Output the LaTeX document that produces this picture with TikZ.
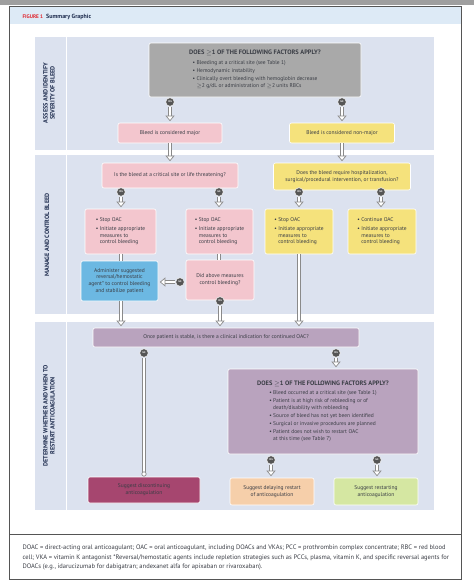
\documentclass[tikz,border=0pt]{standalone}
\usepackage{fontspec}
\setmainfont{PT Sans}
\usetikzlibrary{arrows.meta}

\definecolor{panel}{HTML}{DCE2EF}
\definecolor{hdr}{HTML}{DDEAF6}
\definecolor{boxgray}{HTML}{A9A9A9}
\definecolor{boxpink}{HTML}{F3C6CE}
\definecolor{boxyel}{HTML}{F5E27C}
\definecolor{boxblue}{HTML}{6CB8E2}
\definecolor{boxpurp}{HTML}{B9A3BE}
\definecolor{boxplum}{HTML}{A6466F}
\definecolor{boxorg}{HTML}{F6CFAA}
\definecolor{boxgrn}{HTML}{D5E7A2}
\definecolor{dot}{HTML}{555555}
\definecolor{ink}{HTML}{3A3D45}
\definecolor{navy}{HTML}{1F2D4F}
\definecolor{figred}{HTML}{E0262E}
\definecolor{pipe}{HTML}{8A8A8A}

\newcommand{\ind}{\phantom{\textbullet\ }}
\newcommand{\bul}{\textbullet\ }

\tikzset{
  box/.style={draw=white, line width=0.6pt, rounded corners=2pt, align=center,
    inner sep=0pt, text=ink, font=\fontsize{5.5}{6.9}\selectfont},
  yn/.style={circle, fill=dot, draw=white, line width=0.5pt, minimum size=8.6pt,
    inner sep=0pt, text=white, font=\fontsize{2.4}{3}\bfseries\selectfont},
  flow/.style={draw=pipe, line width=0.8pt, double=white, double distance=1.8pt,
    -{Triangle[width=9pt,length=5.5pt,fill=white,line width=0.7pt]}, shorten >=1.5pt},
  link/.style={draw=pipe, line width=0.8pt, double=white, double distance=1.8pt},
  steplabel/.style={rotate=90, align=center, text=navy,
    font=\fontsize{6.2}{7}\bfseries\selectfont}
}

\begin{document}
\begin{tikzpicture}[x=1pt,y=-1pt]
    \useasboundingbox (0,0) rectangle (474,581);
    \fill[white] (0,0) rectangle (474,581);
    \fill[gray!75] (0,0) rectangle (474,5);

    % frame and header
    \fill[hdr] (9.5,6.5) rectangle (460.5,24);
    \draw[dot, line width=0.9pt] (9,6) rectangle (461,579);
    \draw[dot, line width=0.9pt] (9,534) -- (461,534);
    \node[anchor=west, font=\fontsize{6}{7}\bfseries\selectfont] (title) at (19,17)
        {\textcolor{figred}{\fontsize{5.2}{6}\selectfont FIGURE 1}\hspace{3pt}\textcolor{navy}{Summary Graphic}};

    % the three steps
    \fill[panel] (35,37) rectangle (434,150);
    \fill[panel] (35,155) rectangle (434,314);
    \fill[panel] (35,322) rectangle (434,510);
    \draw[white, line width=1.2pt] (66.5,37) -- (66.5,150);
    \draw[white, line width=1.2pt] (66.5,155) -- (66.5,314);
    \draw[white, line width=1.2pt] (66.5,322) -- (66.5,510);
    \node[steplabel] (lab1) at (49,93) {ASSESS AND IDENTIFY\\SEVERITY OF BLEED};
    \node[steplabel] (lab2) at (47,235) {MANAGE AND CONTROL BLEED};
    \node[steplabel] (lab3) at (49,416) {DETERMINE WHETHER AND WHEN TO\\RESTART ANTICOAGULATION};

    % assess
    \node[box, fill=boxgray, minimum width=212pt, minimum height=54pt] (q1) at (255,70)
        {{\fontsize{6.4}{7}\bfseries DOES $\geq$1 OF THE FOLLOWING FACTORS APPLY?}\\[2pt]
         \begin{tabular}{@{}l@{}}
         \bul Bleeding at a critical site (see Table 1)\\[1.4pt]
         \bul Hemodynamic instability\\[1.4pt]
         \bul Clinically overt bleeding with hemoglobin decrease\\
         \ind $\geq$2 g/dL or administration of $\geq$2 units RBCs
         \end{tabular}};
    \node[yn] (y1) at (170,102) {YES};
    \node[yn] (n1) at (342,102) {NO};
    \node[box, fill=boxpink, minimum width=104pt, minimum height=20pt] (major) at (170,133)
        {Bleed is considered major};
    \node[box, fill=boxyel, minimum width=105pt, minimum height=20pt] (minor) at (342,133)
        {Bleed is considered non-major};
    \draw[flow] (y1) -- (major);
    \draw[flow] (n1) -- (minor);

    % manage
    \node[box, fill=boxpink, minimum width=136pt, minimum height=25pt] (crit) at (170,175.5)
        {Is the bleed at a critical site or life threatening?};
    \node[box, fill=boxyel, minimum width=137pt, minimum height=27pt] (hosp) at (342,176.5)
        {Does the bleed require hospitalization,\\surgical/procedural intervention, or transfusion?};
    \draw[flow] (major) -- (crit);
    \draw[flow] (minor) -- (hosp);

    \node[yn] (y2) at (121,192) {YES};
    \node[yn] (n2) at (219,192) {NO};
    \node[yn] (y3) at (299,192) {YES};
    \node[yn] (n3) at (381,192) {NO};

    \node[box, fill=boxpink, minimum width=71pt, minimum height=45pt] (stopa) at (120.5,231.5)
        {\begin{tabular}{@{}l@{}}\bul Stop OAC\\[1.5pt] \bul Initiate appropriate\\ \ind measures to\\ \ind control bleeding\end{tabular}};
    \node[box, fill=boxpink, minimum width=67pt, minimum height=45pt] (stopb) at (219.5,231.5)
        {\begin{tabular}{@{}l@{}}\bul Stop OAC\\[1.5pt] \bul Initiate appropriate\\ \ind measures to\\ \ind control bleeding\end{tabular}};
    \node[box, fill=boxyel, minimum width=68pt, minimum height=45pt] (stopc) at (299,231.5)
        {\begin{tabular}{@{}l@{}}\bul Stop OAC\\[1.5pt] \bul Initiate appropriate\\ \ind measures to\\ \ind control bleeding\end{tabular}};
    \node[box, fill=boxyel, minimum width=68pt, minimum height=45pt] (cont) at (382,231.5)
        {\begin{tabular}{@{}l@{}}\bul Continue OAC\\[1.5pt] \bul Initiate appropriate\\ \ind measures to\\ \ind control bleeding\end{tabular}};
    \draw[flow] (y2) -- (y2 |- stopa.north);
    \draw[flow] (n2) -- (n2 |- stopb.north);
    \draw[flow] (y3) -- (y3 |- stopc.north);
    \draw[flow] (n3) -- (n3 |- cont.north);

    \node[box, fill=boxblue, minimum width=77pt, minimum height=40pt] (admin) at (119.5,281)
        {Administer suggested\\reversal/hemostatic\\agent* to control bleeding\\and stabilize patient};
    \node[box, fill=boxpink, minimum width=68pt, minimum height=40pt] (did) at (220,280)
        {Did above measures\\control bleeding?};
    \draw[link] (stopa.south -| y2) -- (admin.north -| y2);
    \draw[link] (stopb.south -| n2) -- (did.north -| n2);
    \node[yn] (n4) at (180,282) {NO};
    \node[yn] (y4) at (220,301) {YES};
    \draw[flow] (n4) -- (n4 -| admin.east);

    % restart
    \node[box, fill=boxpurp, minimum width=266pt, minimum height=19pt] (once) at (226,337.5)
        {Once patient is stable, is there a clinical indication for continued OAC?};
    \draw[flow] (admin.south -| y2) -- (once.north -| y2);
    \draw[flow] (y4) -- (y4 |- once.north);
    \draw[flow] (stopc) -- (stopc |- once.north);

    \node[yn] (n5) at (144,353) {NO};
    \node[yn] (y5) at (336,353) {YES};

    \node[box, fill=boxpurp, minimum width=190pt, minimum height=85pt] (q2) at (323,411.5)
        {{\fontsize{6.4}{7}\bfseries DOES $\geq$1 OF THE FOLLOWING FACTORS APPLY?}\\[2pt]
         \begin{tabular}{@{}l@{}}
         \bul Bleed occurred at a critical site (see Table 1)\\[1.2pt]
         \bul Patient is at high risk of rebleeding or of\\
         \ind death/disability with rebleeding\\[1.2pt]
         \bul Source of bleed has not yet been identified\\[1.2pt]
         \bul Surgical or invasive procedures are planned\\[1.2pt]
         \bul Patient does not wish to restart OAC\\
         \ind at this time (see Table 7)
         \end{tabular}};
    \draw[flow] (y5) -- (y5 |- q2.north);

    \node[yn] (y6) at (271,460) {YES};
    \node[yn] (n6) at (377,460) {NO};

    \node[box, fill=boxplum, minimum width=112pt, minimum height=26pt] (disc) at (144,490)
        {Suggest discontinuing\\anticoagulation};
    \node[box, fill=boxorg, minimum width=84pt, minimum height=27pt] (delay) at (272,491.5)
        {Suggest delaying restart\\of anticoagulation};
    \node[box, fill=boxgrn, minimum width=84pt, minimum height=27pt] (resume) at (376,491.5)
        {Suggest restarting\\anticoagulation};
    \draw[link] (n5) -- (144,474);
    \node[circle, fill=white, draw=pipe, line width=0.7pt, minimum size=4.4pt, inner sep=0pt] (ring) at (144,474) {};
    \draw[flow] (y6) -- (y6 |- delay.north);
    \draw[flow] (n6) -- (n6 |- resume.north);

    % abbreviations
    \node[anchor=north west, align=left, text=ink, font=\fontsize{6.5}{9.5}\selectfont] (notes) at (19,541.5)
        {DOAC = direct-acting oral anticoagulant; OAC = oral anticoagulant, including DOACs and VKAs; PCC = prothrombin complex concentrate; RBC = red blood\\
         cell; VKA = vitamin K antagonist *Reversal/hemostatic agents include repletion strategies such as PCCs, plasma, vitamin K, and specific reversal agents for\\
         DOACs (e.g., idarucizumab for dabigatran; andexanet alfa for apixaban or rivaroxaban).};
\end{tikzpicture}
\end{document}
